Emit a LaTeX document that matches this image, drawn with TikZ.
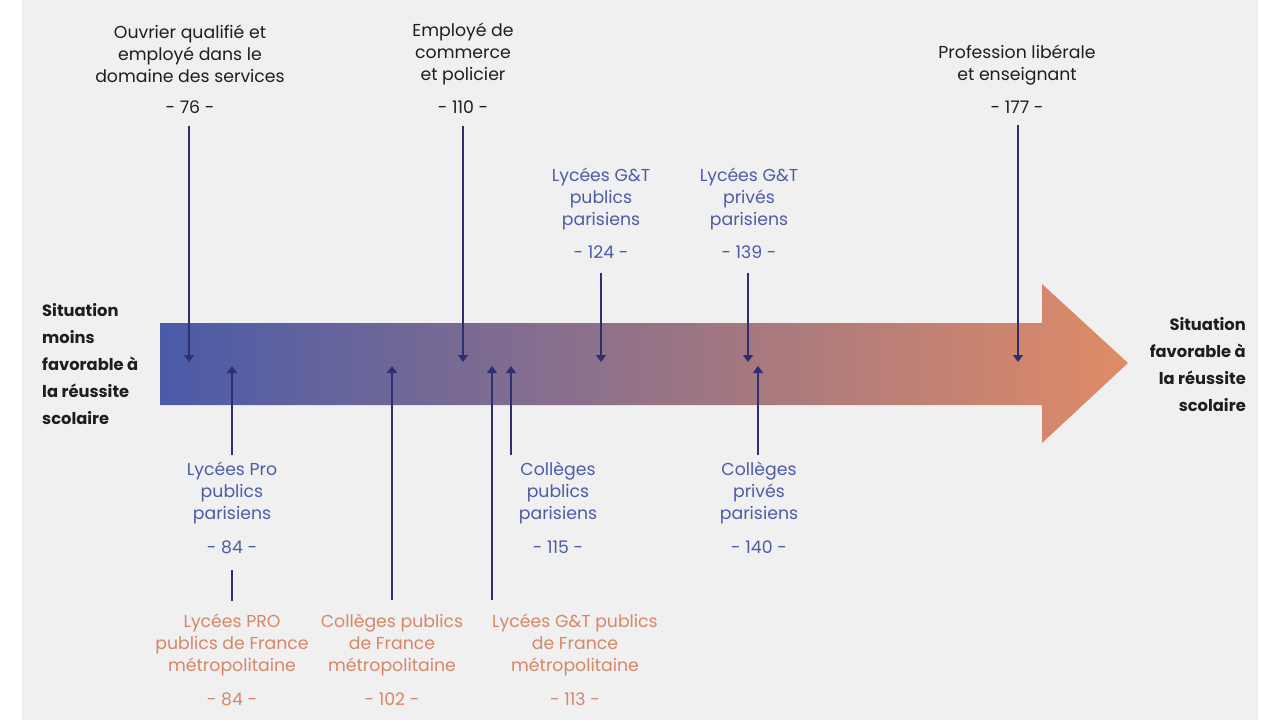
\documentclass[tikz,border=0pt]{standalone}
\usepackage{fontspec}
\setmainfont{Poppins}
\usetikzlibrary{arrows.meta,calc}
\definecolor{bg}{HTML}{F0F0F0}
\definecolor{navy}{HTML}{2E2F72}
\definecolor{bluet}{HTML}{4E5CA6}
\definecolor{oranget}{HTML}{D58767}
\definecolor{ink}{HTML}{1E1E1E}
\definecolor{barL}{HTML}{4A5BA8}
\definecolor{barR}{HTML}{E08B66}
\begin{document}
\begin{tikzpicture}[x=1pt,y=-1pt,
  lbl/.style={align=center, font=\fontsize{17.3}{22}\selectfont, inner sep=0pt},
  blk/.style={lbl,text=ink},
  blu/.style={lbl,text=bluet},
  org/.style={lbl,text=oranget},
  side/.style={font=\fontsize{16.3}{27}\selectfont\bfseries, text=ink, inner sep=0pt},
  arr/.style={navy, line width=2.2pt, -{Triangle[width=10pt,length=7pt]}},
  stem/.style={navy, line width=2.2pt}]
\useasboundingbox (0,0) rectangle (1280,720);
\fill[white] (0,0) rectangle (1280,720);
\fill[bg] (22,0) rectangle (1258,720);
% big gradient arrow
\shade[left color=barL, right color=barR]
  (160,323) -- (1042,323) -- (1042,284) -- (1128,363) -- (1042,443) -- (1042,405) -- (160,405) -- cycle;

% side labels
\node[side, align=left, anchor=west] (left) at (42,364) {Situation\\moins\\favorable à\\la réussite\\scolaire};
\node[side, align=right, anchor=east] (right) at (1246,365) {Situation\\favorable à\\la réussite\\scolaire};

% top labels (black)
\node[blk] (ouv) at (190,54) {Ouvrier qualifié et\\employé dans le\\domaine des services};
\node[blk] (n76) at (190,107) {- 76 -};
\node[blk] (emp) at (463,54) {Employé de\\commerce\\et policier};
\node[blk] (n110) at (463,107) {- 110 -};
\node[blk] (pro) at (1017,65) {Profession libérale\\et enseignant};
\node[blk] (n177) at (1017,107) {- 177 -};

% upper blue labels
\node[blu] (gtpub) at (601,199) {Lycées G\&T\\publics\\parisiens};
\node[blu] (n124) at (601,252) {- 124 -};
\node[blu] (gtpriv) at (749,199) {Lycées G\&T\\privés\\parisiens};
\node[blu] (n139) at (749,252) {- 139 -};

% lower blue labels
\node[blu] (lpro) at (232,493) {Lycées Pro\\publics\\parisiens};
\node[blu] (n84) at (232,547) {- 84 -};
\node[blu] (colpub) at (558,493) {Collèges\\publics\\parisiens};
\node[blu] (n115) at (558,547) {- 115 -};
\node[blu] (colpriv) at (759,493) {Collèges\\privés\\parisiens};
\node[blu] (n140) at (759,547) {- 140 -};

% orange labels
\node[org] (fpro) at (232,645) {Lycées PRO\\publics de France\\métropolitaine};
\node[org] (f84) at (232,699) {- 84 -};
\node[org] (fcol) at (392,645) {Collèges publics\\de France\\métropolitaine};
\node[org] (f102) at (392,699) {- 102 -};
\node[org] (fgt) at (575,645) {Lycées G\&T publics\\de France\\métropolitaine};
\node[org] (f113) at (575,699) {- 113 -};

% arrow targets on the bar
\coordinate (t76) at (189,362);
\coordinate (t110) at (463,362);
\coordinate (t177) at (1018,362);
\coordinate (t124) at (601,362);
\coordinate (t139) at (748,362);
\coordinate (u84) at (232,366);
\coordinate (u102) at (392,366);
\coordinate (u113) at (492,366);
\coordinate (u115) at (511,366);
\coordinate (u140) at (758,366);
% arrow bases below the bar
\coordinate (b84) at (232,455);
\coordinate (b115) at (511,455);
\coordinate (b140) at (758,455);
\coordinate (b102) at (392,600);
\coordinate (b113) at (492,600);
\coordinate (s84a) at (232,570);
\coordinate (s84b) at (232,601);

% down arrows
\draw[arr] (n76.south -| t76) ++(0,12) -- (t76);
\draw[arr] (n110.south -| t110) ++(0,12) -- (t110);
\draw[arr] (n177.south -| t177) ++(0,12) -- (t177);
\draw[arr] (n124.south -| t124) ++(0,14) -- (t124);
\draw[arr] (n139.south -| t139) ++(0,14) -- (t139);
% up arrows
\draw[arr] (b84) -- (u84);
\draw[arr] (b115) -- (u115);
\draw[arr] (b140) -- (u140);
\draw[arr] (b102) -- (u102);
\draw[arr] (b113) -- (u113);
\draw[stem] (s84a) -- (s84b);
\end{tikzpicture}
\end{document}
